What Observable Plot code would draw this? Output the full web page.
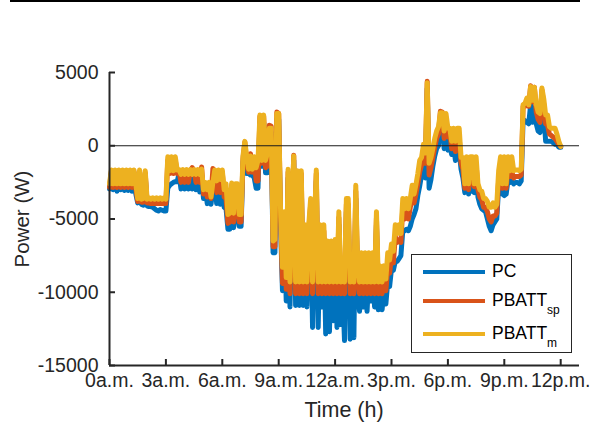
<!DOCTYPE html>
<html>
<head>
<meta charset="utf-8">
<script src="https://cdn.jsdelivr.net/npm/d3@7"></script>
<script src="https://cdn.jsdelivr.net/npm/@observablehq/plot@0.6"></script>
<style>
  body { margin: 0; background: #fff; }
  #wrap { position: relative; width: 590px; height: 434px; font-family: "Liberation Sans", Arial, sans-serif; color: #262626; }
  #topline { position: absolute; left: 10px; top: 0; width: 570px; height: 1.5px; background: #000; }
  .ylab { position: absolute; left: 22px; top: 219px; transform: translate(-50%, -50%) rotate(-90deg); font-size: 20.5px; white-space: nowrap; }
  .xlab { position: absolute; left: 344px; top: 410px; transform: translate(-50%, -50%); font-size: 21.5px; white-space: nowrap; }
  #legend { position: absolute; left: 411px; top: 254px; width: 161px; height: 99px; border: 1px solid #262626; background: #fff; box-sizing: border-box; }
  .entry { position: absolute; left: 0; width: 100%; height: 0; }
  .swatch { position: absolute; left: 11px; width: 62px; height: 4px; top: -2px; }
  .ltext { position: absolute; left: 80px; top: -11px; font-size: 17.5px; line-height: 20px; color: #000; white-space: nowrap; }
  .ltext sub { font-size: 12px; vertical-align: -8px; line-height: 0; }
</style>
</head>
<body>
<div id="wrap">
  <div id="topline"></div>
  <div id="chart"></div>
  <div class="ylab">Power (W)</div>
  <div class="xlab">Time (h)</div>
  <div id="legend"></div>
</div>
<script>
const hours = [
  0,0.1,0.2,0.3,0.4,0.5,0.6,0.7,0.8,0.9,
  1,1.1,1.2,1.3,1.4,1.5,1.6,1.7,1.8,1.9,
  2,2.1,2.2,2.3,2.4,2.5,2.6,2.7,2.8,2.9,
  3,3.1,3.2,3.3,3.4,3.5,3.6,3.7,3.8,3.9,
  4,4.1,4.2,4.3,4.4,4.5,4.6,4.7,4.8,4.9,
  5,5.1,5.2,5.3,5.4,5.5,5.6,5.7,5.8,5.9,
  6,6.1,6.2,6.3,6.4,6.5,6.6,6.7,6.8,6.9,
  7,7.1,7.2,7.3,7.4,7.5,7.6,7.7,7.8,7.9,
  8,8.1,8.2,8.3,8.4,8.5,8.6,8.7,8.8,8.9,
  9,9.1,9.2,9.3,9.4,9.5,9.6,9.7,9.8,9.9,
  10,10.1,10.2,10.3,10.4,10.5,10.6,10.7,10.8,10.9,
  11,11.1,11.2,11.3,11.4,11.5,11.6,11.7,11.8,11.9,
  12,12.1,12.2,12.3,12.4,12.5,12.6,12.7,12.8,12.9,
  13,13.1,13.2,13.3,13.4,13.5,13.6,13.7,13.8,13.9,
  14,14.1,14.2,14.3,14.4,14.5,14.6,14.7,14.8,14.9,
  15,15.1,15.2,15.3,15.4,15.5,15.6,15.7,15.8,15.9,
  16,16.1,16.2,16.3,16.4,16.5,16.6,16.7,16.8,16.9,
  17,17.1,17.2,17.3,17.4,17.5,17.6,17.7,17.8,17.9,
  18,18.1,18.2,18.3,18.4,18.5,18.6,18.7,18.8,18.9,
  19,19.1,19.2,19.3,19.4,19.5,19.6,19.7,19.8,19.9,
  20,20.1,20.2,20.3,20.4,20.5,20.6,20.7,20.8,20.9,
  21,21.1,21.2,21.3,21.4,21.5,21.6,21.7,21.8,21.9,
  22,22.1,22.2,22.3,22.4,22.5,22.6,22.7,22.8,22.9,
  23,23.1,23.2,23.3,23.4,23.5,23.6,23.7,23.8,23.9,
  24
];

const pbattM = [
  -2600,-1650,-2600,-1650,-2600,-1650,-2600,-1650,-2600,-1650,
  -2600,-1650,-2600,-1650,-2600,-3600,-1650,-3650,-3600,-1700,
  -3650,-3550,-3650,-3550,-3650,-3550,-3650,-3550,-3650,-3550,
  -3650,-750,-1700,-750,-1700,-750,-1650,-1620,-1950,-1620,
  -1950,-1620,-1950,-1620,-1950,-1620,-1950,-1620,-1950,-1600,
  -3000,-2500,-3000,-2500,-3500,-2500,-1650,-2400,-1650,-2300,
  -1650,-3000,-2600,-4700,-4600,-2550,-4600,-2600,-2600,-4700,
  -4700,-700,300,-750,-1600,-700,-1600,-750,-1500,-1000,
  2100,-1000,2100,-1000,-500,1200,1200,-6500,-6400,2200,
  2200,-4500,-8300,-4500,-9000,-1600,-9300,-4500,-700,-9300,
  -1700,-9300,-1700,-9300,-5400,-9300,-5400,-3600,-9300,-5400,
  -1650,-9300,-5400,-9300,-5400,-9300,-6500,-9300,-6500,-9300,
  -6400,-9300,-4500,-9300,-8200,-9300,-3600,-3600,-9300,-8200,
  -9300,-2700,-8200,-9300,-7300,-9300,-7300,-9300,-7300,-9300,
  -7300,-9300,-4500,-9300,-8200,-9300,-8200,-9100,-7300,-7800,
  -6700,-7200,-5400,-6000,-5400,-6000,-3600,-4300,-3600,-4300,
  -3600,-2700,-3300,-2650,-1900,-1000,-800,100,-500,4300,
  -1200,-800,-200,500,1000,1300,2250,2250,1000,2200,
  1200,1200,300,1200,300,1200,1200,-800,-800,-2600,
  -750,-2600,-750,-750,-2600,-750,-2600,-3000,-3100,-3600,
  -3600,-3800,-4200,-4200,-3900,-4200,-4000,-1700,-750,-2600,
  -750,-2600,-750,-1700,-750,-1700,-1650,-1650,-1700,-1600,
  2800,2900,3250,2800,4050,3100,4000,2800,2300,2200,
  3950,3200,2100,2100,1300,1200,1200,1200,800,300,
  -50
];

const pbattSp = [
  -2850,-1750,-2850,-1750,-2850,-1750,-2850,-1750,-2850,-1750,
  -2850,-1750,-2850,-1750,-2900,-3800,-1800,-3850,-3850,-1850,
  -3900,-3900,-3950,-3900,-3950,-3950,-3950,-3950,-3950,-3950,
  -3950,-1000,-1900,-1000,-1900,-1000,-1900,-1700,-2500,-1700,
  -2500,-1700,-2500,-1700,-1500,-1700,-2500,-1700,-2500,-1450,
  -3300,-2700,-3500,-2700,-3600,-1550,-1800,-3200,-1800,-3200,
  -1800,-3500,-3600,-5300,-5200,-2700,-5200,-3800,-3400,-5200,
  -5200,-900,250,-1300,-1800,-550,-1800,-900,-2400,-2400,
  2000,-1200,2000,-1500,-1400,1400,1350,-6900,-6900,2300,
  2200,-5000,-9400,-5000,-9800,-1800,-10100,-5000,-650,-10100,
  -1900,-10100,-1900,-10100,-5800,-10100,-5800,-4000,-10100,-5800,
  -1900,-10100,-5800,-10100,-5800,-10100,-7000,-10100,-7000,-10100,
  -6900,-10100,-4900,-10100,-9000,-10100,-4000,-4000,-10100,-9000,
  -10100,-3100,-9000,-10100,-8000,-10100,-8000,-10100,-8000,-10100,
  -8000,-10100,-4900,-10100,-9000,-10100,-9000,-9900,-8400,-8700,
  -7500,-8000,-6200,-6600,-6400,-6600,-4200,-5000,-4300,-5000,
  -4200,-3600,-3900,-3300,-2600,-1800,-1300,-300,-1200,4400,
  -2000,-1500,-800,-100,500,800,2350,2300,500,1800,
  600,1000,-200,900,-400,800,600,-1200,-1600,-2900,
  -1100,-3000,-1100,-2400,-2800,-1200,-3000,-3500,-3700,-4200,
  -4200,-4500,-5000,-5200,-4800,-4800,-4600,-2300,-1900,-2900,
  -2600,-2900,-1500,-2100,-1800,-2200,-2100,-2100,-2100,-2000,
  2700,2700,3000,2700,4100,3000,4000,2300,1800,1600,
  3800,2800,1500,1400,800,700,600,500,300,100,
  -50
];

const pc = [
  -2950,-1850,-3000,-1850,-3100,-1850,-3000,-1850,-3050,-1850,
  -3050,-1850,-3100,-1850,-3300,-3900,-2000,-4000,-4050,-2100,
  -4100,-4150,-4150,-4200,-4300,-4400,-4450,-4350,-4400,-4450,
  -4450,-2900,-2700,-2600,-2500,-2450,-2450,-1900,-2950,-1900,
  -2950,-1900,-2950,-1900,-2950,-1900,-3000,-1900,-3150,-2000,
  -3600,-3000,-3950,-3000,-3990,-3000,-2200,-3950,-2200,-4000,
  -2200,-4200,-4300,-5700,-5700,-3000,-5600,-4400,-4000,-5500,
  -5500,-1200,-200,-1900,-1900,-2000,-2000,-2200,-2900,-2900,
  1600,-1400,1600,-1850,-1850,900,900,-7300,-7300,1800,
  1800,-5500,-9900,-5500,-10600,-2200,-11000,-5500,-1000,-10900,
  -2300,-10900,-2300,-10900,-6300,-11000,-6300,-4500,-12400,-6300,
  -2400,-12400,-6300,-11000,-6300,-12850,-7500,-12700,-7500,-11950,
  -7400,-12400,-5400,-12200,-9700,-13300,-4500,-4500,-13200,-10000,
  -13100,-3600,-10000,-11300,-8800,-11000,-8800,-11300,-8800,-10600,
  -8800,-11000,-5400,-11200,-9800,-11200,-9800,-10800,-9300,-9600,
  -8400,-8500,-7900,-7900,-7700,-7500,-5800,-5800,-5700,-5800,
  -5500,-5000,-4700,-4300,-3400,-2750,-2000,-1300,-2200,3900,
  -2900,-2300,-1400,-700,-200,0,1700,1500,-200,600,
  -300,0,-600,0,-1000,-400,-400,-1600,-2200,-3200,
  -1600,-3300,-1500,-3100,-3200,-1800,-3500,-4000,-4300,-4400,
  -4500,-5000,-5500,-5800,-5400,-5200,-5000,-2800,-2500,-3300,
  -3400,-3300,-2300,-2500,-2400,-2600,-2500,-2500,-2600,-2400,
  1800,1700,1600,1500,2800,1600,2600,1500,1000,900,
  3300,2200,300,300,300,300,200,100,100,-100,
  -100
];

const seriesNames = ["PC", "PBATT", "PBATT"];
const seriesSubs = ["", "sp", "m"];
const seriesColors = ["#0072BD", "#D95319", "#EDB120"];

const xTicks = [0, 3, 6, 9, 12, 15, 18, 21, 24];
const xTickLabels = ["0a.m.", "3a.m.", "6a.m.", "9a.m.", "12a.m.", "3p.m.", "6p.m.", "9p.m.", "12p.m."];
const yTicks = [-15000, -10000, -5000, 0, 5000];
const yTickLabels = ["-15000", "-10000", "-5000", "0", "5000"];

const seriesValues = [pc, pbattSp, pbattM];
const rowsFor = vals => hours.map((h, i) => ({h, v: vals[i]}));

const axisColor = "#262626";

const chart = Plot.plot({
  width: 590,
  height: 434,
  marginLeft: 109,
  marginRight: 11,
  marginTop: 72,
  marginBottom: 69,
  x: {domain: [0, 25]},
  y: {domain: [-15000, 5000]},
  style: {fontFamily: "'Liberation Sans', Arial, sans-serif", fontSize: "19.5px", color: axisColor, background: "transparent", overflow: "visible"},
  marks: [
    ...seriesValues.map((vals, k) => Plot.line(rowsFor(vals), {x: "h", y: "v", stroke: seriesColors[k], strokeWidth: 5, strokeLinejoin: "round", strokeLinecap: "round"})),
    Plot.ruleY([0], {stroke: "#1a1a1a", strokeWidth: 1.2}),
    Plot.ruleX([0], {stroke: axisColor, strokeWidth: 2}),
    Plot.ruleY([-15000], {stroke: axisColor, strokeWidth: 2}),
    Plot.axisX(xTicks, {tickSize: -6, tickPadding: 14, strokeWidth: 2, stroke: axisColor, fill: axisColor, tickFormat: d => xTickLabels[xTicks.indexOf(d)], label: null}),
    Plot.axisY(yTicks, {tickSize: -6, tickPadding: 17, strokeWidth: 2, stroke: axisColor, fill: axisColor, tickFormat: d => yTickLabels[yTicks.indexOf(d)], label: null})
  ]
});
document.getElementById("chart").appendChild(chart);

const legend = document.getElementById("legend");
const rowTops = [17, 46, 79];
seriesNames.forEach((name, k) => {
  const e = document.createElement("div");
  e.className = "entry";
  e.style.top = rowTops[k] + "px";
  const sw = document.createElement("div");
  sw.className = "swatch";
  sw.style.background = seriesColors[k];
  const t = document.createElement("div");
  t.className = "ltext";
  t.textContent = name;
  if (seriesSubs[k]) {
    const s = document.createElement("sub");
    s.textContent = seriesSubs[k];
    t.appendChild(s);
  }
  e.appendChild(sw);
  e.appendChild(t);
  legend.appendChild(e);
});
</script>
</body>
</html>
